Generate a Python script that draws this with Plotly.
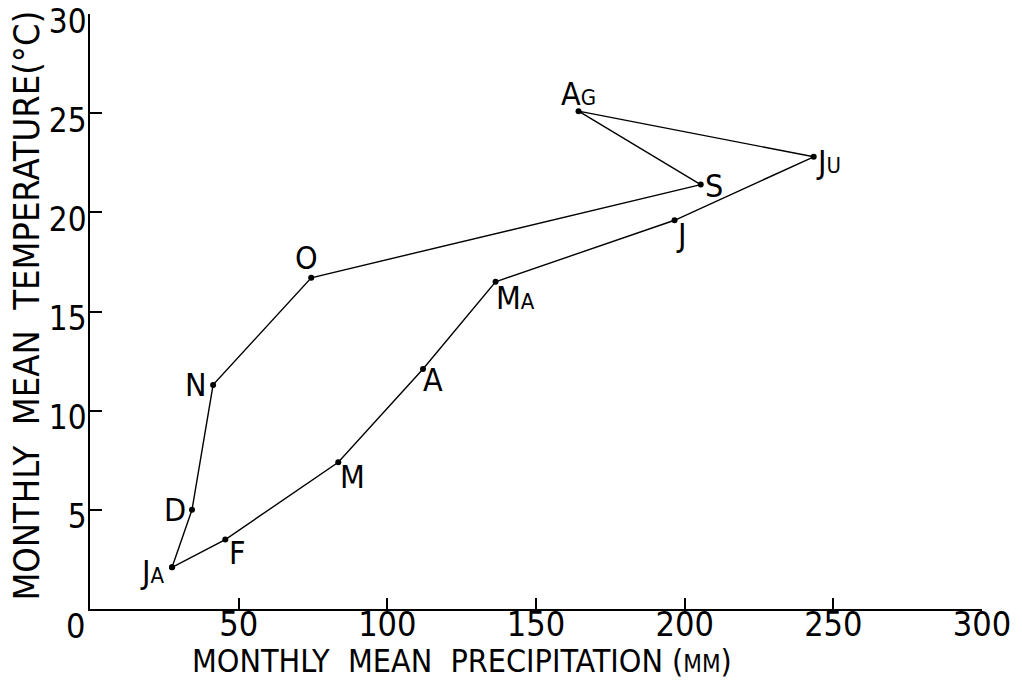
import plotly.graph_objects as go

# Climograph data (month order, loop closes back to January)
months = ["JA", "F", "M", "A", "MA", "J", "JU", "AG", "S", "O", "N", "D"]
precip_mm = [27.6, 45.5, 83.5, 112.0, 136.4, 196.6, 243.4, 164.3, 205.4, 74.4, 41.4, 34.3]
temp_c = [2.1, 3.5, 7.4, 12.1, 16.5, 19.6, 22.8, 25.1, 21.4, 16.7, 11.3, 5.0]

x_ticks = [50, 100, 150, 200, 250, 300]
y_ticks = [5, 10, 15, 20, 25, 30]

FONT = "DejaVu Sans Condensed, DejaVu Sans, sans-serif"

# label display (big letter + small letter) and pixel offsets
small = "font-size:22px"
label_text = {
    "JA": f"J<span style='{small}'>A</span>",
    "MA": f"M<span style='{small}'>A</span>",
    "JU": f"J<span style='{small}'>U</span>",
    "AG": f"A<span style='{small}'>G</span>",
}
label_shift = {
    "JA": (-20, -5), "F": (12, -13), "M": (14, -15), "A": (10, -11),
    "MA": (20, -16), "J": (6, -15), "JU": (15, -5), "AG": (0, 17),
    "S": (13, -1), "O": (-5, 20), "N": (-17, 0), "D": (-17, 0),
}

fig = go.Figure()
fig.add_trace(go.Scatter(
    x=precip_mm + precip_mm[:1],
    y=temp_c + temp_c[:1],
    mode="lines+markers",
    line=dict(color="black", width=1.4),
    marker=dict(color="black", size=6),
    showlegend=False,
    hoverinfo="skip",
))

annotations = []
for m, xv, yv in zip(months, precip_mm, temp_c):
    dx, dy = label_shift[m]
    annotations.append(dict(
        x=xv, y=yv, xref="x", yref="y", text=label_text.get(m, m),
        showarrow=False, xshift=dx, yshift=dy,
        font=dict(size=32, color="black", family=FONT),
        xanchor="center", yanchor="middle",
    ))

# x "0" label sits a little left of the origin
annotations.append(dict(
    x=0, y=0, xref="x", yref="y", text="0", showarrow=False,
    xshift=-15, yshift=-17, font=dict(size=34, color="black", family=FONT),
    xanchor="center", yanchor="middle",
))
# axis titles
annotations.append(dict(
    x=0.417, y=-0.087, xref="paper", yref="paper", yanchor="middle",
    text="MONTHLY  MEAN  PRECIPITATION (<span style='font-size:24px'>MM</span>)",
    showarrow=False, font=dict(size=32, color="black", family=FONT),
))
annotations.append(dict(
    x=-0.0706, y=0.51, xref="paper", yref="paper", xanchor="center", yanchor="middle",
    text="MONTHLY  MEAN  TEMPERATURE(°C)", textangle=-90,
    showarrow=False, font=dict(size=36, color="black", family=FONT),
))

fig.update_layout(
    width=1022, height=693,
    margin=dict(l=90, r=40, t=14, b=84),
    paper_bgcolor="white", plot_bgcolor="white",
    annotations=annotations,
    font=dict(family=FONT, color="black"),
)
fig.update_xaxes(
    range=[0, 300], tickvals=x_ticks, ticktext=[str(v) for v in x_ticks],
    ticks="inside", ticklen=11, tickwidth=1.5, tickcolor="black",
    showline=True, linecolor="black", linewidth=1.5,
    showgrid=False, zeroline=False, automargin=False,
    ticklabelstandoff=-16, ticklabeloverflow="allow",
    tickfont=dict(size=34, family=FONT, color="black"),
)
fig.update_yaxes(
    range=[0, 30], tickvals=y_ticks, ticktext=[str(v) for v in y_ticks],
    ticks="inside", ticklen=12, tickwidth=1.5, tickcolor="black",
    showline=True, linecolor="black", linewidth=1.5,
    showgrid=False, zeroline=False, automargin=False,
    ticklabelstandoff=-5, ticklabelshift=7, ticklabeloverflow="allow",
    tickfont=dict(size=33, family=FONT, color="black"),
)

# remove the browser's default 8px page margin so the figure fills the window
fig.write_html(
    "out.html",
    config={"displayModeBar": False},
    post_script="document.body.style.margin='0px';",
)
